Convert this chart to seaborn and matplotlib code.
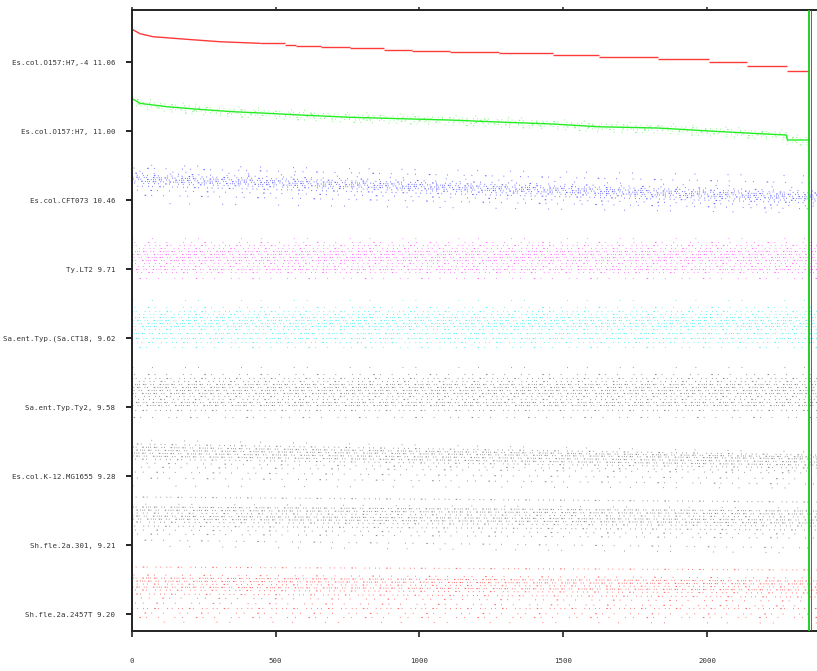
import matplotlib
matplotlib.use("Agg")
import matplotlib.pyplot as plt
import seaborn as sns

sns.set_theme(style="white")
plt.rcParams["font.family"] = ["DejaVu Sans Mono", "DejaVu Sans"]

# genome rows, bottom (0) to top (8)
genome_labels = [
    "Sh.fle.2a.2457T 9.20",
    "Sh.fle.2a.301, 9.21",
    "Es.col.K-12.MG1655 9.28",
    "Sa.ent.Typ.Ty2, 9.58",
    "Sa.ent.Typ.(Sa.CT18, 9.62",
    "Ty.LT2 9.71",
    "Es.col.CFT073 10.46",
    "Es.col.O157:H7, 11.00",
    "Es.col.O157:H7,-4 11.06",
]
x_ticks = [0, 500, 1000, 1500, 2000]
x_end = 2384
cutoff = 2355

# O157:H7,-4 : smooth initial drop, then flat steps (offset above its row)
o157b_x = [0, 29, 74, 192, 307, 446, 534, 572, 659, 760, 878, 975, 1107,
           1278, 1466, 1623, 1831, 2008, 2137, 2276, 2355]
o157b_y = [0.478, 0.410, 0.367, 0.329, 0.294, 0.271, 0.246, 0.232, 0.213,
           0.199, 0.178, 0.164, 0.145, 0.126, 0.106, 0.077, 0.039, 0.0,
           -0.054, -0.130, -0.130]
o157b_curve_end = 5  # index where the curve turns into steps

# O157:H7 : main trend plus narrow scatter
o157_x = [0, 29, 123, 235, 352, 471, 586, 760, 975, 1107, 1278, 1466, 1623,
          1831, 2008, 2137, 2276, 2279, 2355]
o157_y = [0.474, 0.401, 0.352, 0.314, 0.280, 0.257, 0.232, 0.199, 0.174,
          0.159, 0.130, 0.101, 0.062, 0.043, 0.0, -0.029, -0.058, -0.130,
          -0.130]
o157_spread = [0.07, 0.035, 0.015, -0.02, -0.035, -0.07]
o157_spread_density = [0, 2, 1, 1, 2, 1]

# scatter bands: value level at x=0 and at the right end, point density 0..3
cft073_start = [0.507, 0.464, 0.420, 0.391, 0.362, 0.333, 0.304, 0.275, 0.246, 0.203, 0.145, 0.072, -0.043]
cft073_end = [0.348, 0.246, 0.174, 0.130, 0.101, 0.072, 0.043, 0.014, -0.014, -0.043, -0.087, -0.130, -0.188]
cft073_density = [0, 1, 0, 1, 2, 3, 3, 3, 2, 2, 1, 1, 0]

lt2_level = [0.449, 0.391, 0.348, 0.304, 0.261, 0.217, 0.174, 0.130, 0.087, 0.043, 0.007, -0.043, -0.130]
lt2_density = [0, 1, 2, 2, 3, 3, 3, 3, 2, 2, 3, 2, 1]

ct18_level = [0.551, 0.449, 0.391, 0.348, 0.304, 0.261, 0.217, 0.174, 0.130, 0.072, 0.0, -0.058, -0.130]
ct18_density = [0, 1, 2, 2, 3, 3, 3, 3, 2, 3, 3, 2, 1]

ty2_level = [0.580, 0.478, 0.420, 0.377, 0.333, 0.290, 0.246, 0.203, 0.159, 0.116, 0.072, 0.029, -0.043, -0.145]
ty2_density = [0, 1, 2, 2, 3, 3, 3, 3, 2, 2, 3, 3, 2, 1]

k12_start = [0.522, 0.464, 0.420, 0.377, 0.333, 0.290, 0.246, 0.188, 0.130, 0.058, -0.029, -0.145]
k12_end = [0.348, 0.304, 0.275, 0.246, 0.203, 0.159, 0.116, 0.072, 0.043, -0.043, -0.116, -0.174]
k12_density = [0, 2, 3, 3, 3, 3, 2, 1, 1, 1, 1, 0]

sf301_start = [0.696, 0.594, 0.551, 0.507, 0.464, 0.420, 0.377, 0.333, 0.275, 0.217, 0.159, 0.072, -0.014]
sf301_end = [0.623, 0.536, 0.493, 0.449, 0.406, 0.362, 0.319, 0.275, 0.217, 0.159, 0.101, -0.043, -0.116]
sf301_density = [2, 0, 3, 3, 2, 3, 3, 2, 2, 1, 1, 1, 0]

sf2457_start = [0.681, 0.565, 0.522, 0.478, 0.435, 0.391, 0.348, 0.290, 0.232, 0.159, 0.087, 0.014, -0.043, -0.116]
sf2457_end = [0.638, 0.522, 0.478, 0.435, 0.391, 0.348, 0.304, 0.246, 0.188, 0.116, 0.087, 0.0, -0.043, -0.130]
sf2457_density = [2, 1, 3, 3, 2, 3, 2, 2, 1, 1, 2, 1, 1, 0]

# irregular dot patterns used to render the point clouds, sparse -> dense
dot_patterns = {
    3: [0.7, 1.1, 0.7, 2.6, 1.4, 0.9, 0.7, 3.8, 0.7, 1.6, 0.7, 5.2, 1.4, 2.0, 0.7, 1.3],
    2: [0.7, 2.9, 0.7, 5.6, 1.4, 2.2, 0.7, 7.4, 0.7, 3.5, 0.7, 4.8],
    1: [0.7, 6.3, 0.7, 11.5, 1.4, 4.7, 0.7, 9.8, 0.7, 14.2],
    0: [0.7, 17.0, 0.7, 29.0, 0.7, 11.0, 0.7, 38.0],
}

fig = plt.figure(figsize=(8.17, 6.71), dpi=100)
ax = fig.add_axes([0.1612, 0.0596, 0.8395, 0.9255])


def draw_band(row, starts, ends, density, color, alpha):
    for i, (a, b, d) in enumerate(zip(starts, ends, density)):
        pat = dot_patterns[d]
        period = sum(pat)
        ax.plot([0, x_end], [row + a, row + b], color=color, lw=0.8,
                alpha=alpha, linestyle=((i * 5.3) % period, pat),
                dash_capstyle="butt")


draw_band(6, cft073_start, cft073_end, cft073_density, "#2a2aff", 0.7)
draw_band(5, lt2_level, lt2_level, lt2_density, "#ff2aff", 0.65)
draw_band(4, ct18_level, ct18_level, ct18_density, "#22eeee", 0.75)
draw_band(3, ty2_level, ty2_level, ty2_density, "#222222", 0.5)
draw_band(2, k12_start, k12_end, k12_density, "#222222", 0.5)
draw_band(1, sf301_start, sf301_end, sf301_density, "#222222", 0.5)
draw_band(0, sf2457_start, sf2457_end, sf2457_density, "#ff2a2a", 0.7)

# O157:H7 scatter around its trend
for i, (s, d) in enumerate(zip(o157_spread, o157_spread_density)):
    pat = dot_patterns[d]
    ax.plot(o157_x, [7 + v + s for v in o157_y], color="#22ee22", lw=0.8,
            alpha=0.6, linestyle=(i * 4.1, pat), dash_capstyle="butt")
sns.lineplot(x=o157_x, y=[7 + v for v in o157_y], color="#22ee22", lw=1.0,
             estimator=None, sort=False, ax=ax)

# O157:H7,-4 : curve, then horizontal steps without risers
k = o157b_curve_end
sns.lineplot(x=o157b_x[:k + 1], y=[8 + v for v in o157b_y[:k + 1]],
             color="#ff3a3a", lw=1.0, estimator=None, sort=False, ax=ax)
ax.hlines([8 + v for v in o157b_y[k:-1]], o157b_x[k:-1], o157b_x[k + 1:],
          color="#ff3a3a", lw=1.0)

# cutoff marker
ax.axvline(cutoff, color="#11cc11", lw=1.3, zorder=5)
ax.axvline(cutoff + 4.5, color="#3333ee", lw=0.6, zorder=5)

ax.set_xlim(0, x_end)
ax.set_ylim(-0.246, 8.754)
ax.set_yticks(range(len(genome_labels)))
ax.set_yticklabels(genome_labels)
ax.set_xticks(x_ticks)
ax.set_xticklabels([str(t) for t in x_ticks])
ax.tick_params(axis="y", left=True, length=4.3, width=1.4, pad=7.5,
               labelsize=5.3, color="#222222", labelcolor="#333333")
ax.tick_params(axis="x", bottom=True, length=4.3, width=1.2, pad=15,
               labelsize=5.3, color="#222222", labelcolor="#333333")
ax.set_xlabel("")
ax.set_ylabel("")

for side in ("left", "bottom", "top"):
    ax.spines[side].set_linewidth(1.4)
    ax.spines[side].set_color("#222222")
ax.spines["right"].set_visible(False)

top = ax.secondary_xaxis("top")
top.set_xticks(x_ticks)
top.tick_params(length=2.2, width=1.1, color="#222222", labeltop=False)
top.spines["top"].set_visible(False)

fig.savefig("out.png", dpi=100)
